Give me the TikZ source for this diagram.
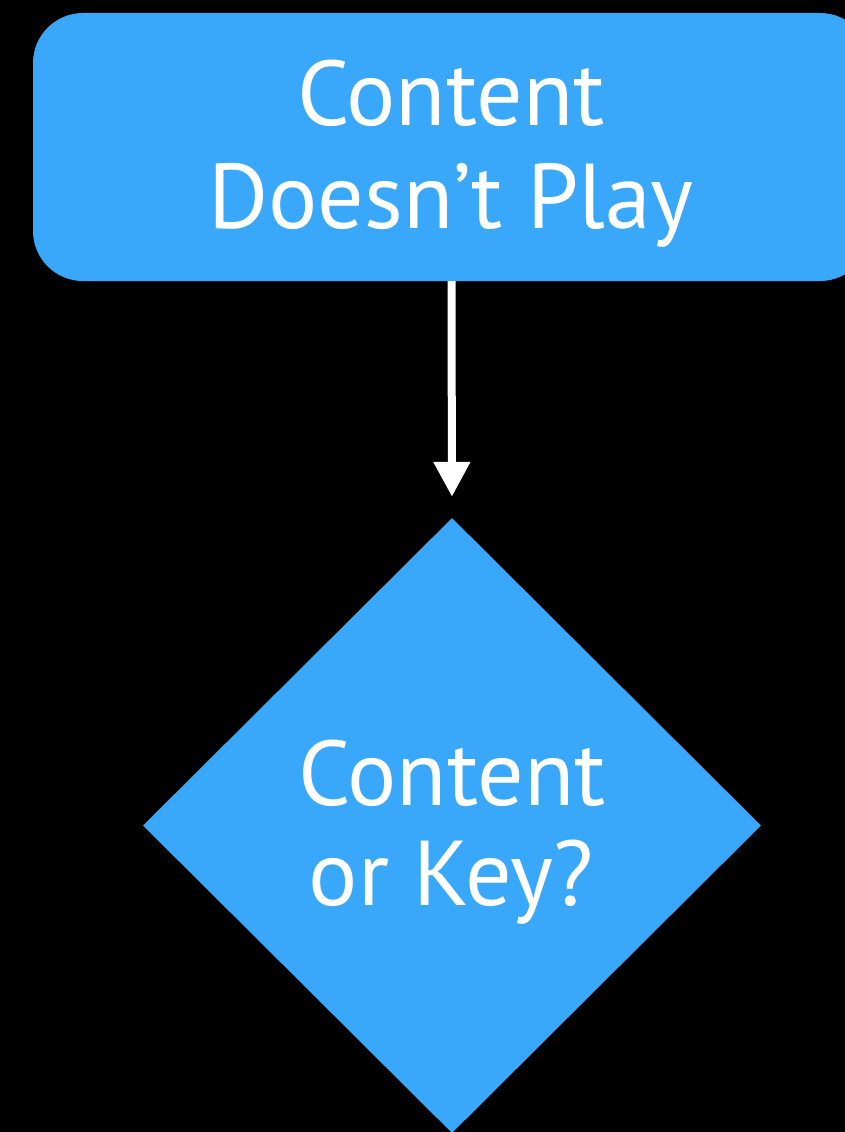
\documentclass[tikz,border=0pt]{standalone}
\usepackage{fontspec}
\setmainfont{PT Sans}
\usetikzlibrary{arrows.meta,shapes.geometric}
\definecolor{flowblue}{RGB}{58,168,250}
\tikzset{
  box/.style={fill=flowblue, draw=none, rounded corners=50pt, minimum width=837pt, minimum height=268pt, inner sep=0pt},
  decision/.style={fill=flowblue, draw=none, diamond, minimum width=618pt, minimum height=615pt, inner sep=0pt},
  big/.style={text=white, font=\fontsize{92}{100}\selectfont, inner sep=0pt, anchor=base},
  flow/.style={draw=white, line width=8pt, -{Triangle[length=35pt,width=35pt]}}
}
\begin{document}
\begin{tikzpicture}[x=1pt,y=-1pt]
  \useasboundingbox (0,0) rectangle (845,1132);
  \fill[black] (0,0) rectangle (845,1132);
  \clip (0,0) rectangle (845,1132);
  % start box
  \node[box] (start) at (451.5,147) {};
  \node[big] (start1) at (451,125) {Content};
  \node[big] (start2) at (451,228) {Doesn’t Play};
  % decision
  \node[decision] (check) at (452,825.5) {};
  \node[big] (check1) at (452,805) {Content};
  \node[big] (check2) at (451,905) {or Key?};
  % connector
  \draw[flow, shorten >=21pt] (start.south) -- (check.north);
\end{tikzpicture}
\end{document}
